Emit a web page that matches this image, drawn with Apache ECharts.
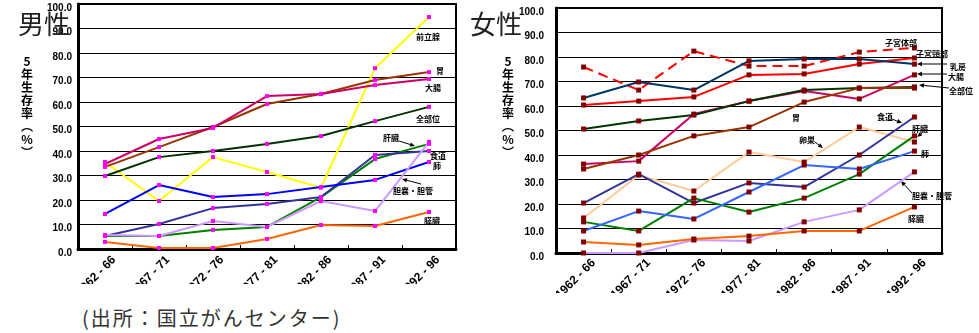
<!DOCTYPE html>
<html>
<head>
<meta charset="utf-8">
<script src="https://cdn.jsdelivr.net/npm/echarts@6/dist/echarts.min.js"></script>
<style>
  html, body { margin: 0; padding: 0; background: #fff; }
  body { width: 979px; height: 333px; position: relative; overflow: hidden; }
  #male { position: absolute; left: 0; top: 0; width: 470px; height: 284px; }
  #female { position: absolute; left: 460px; top: 0; width: 519px; height: 293px; }
  #source {
    position: absolute; left: 82px; top: 303px; letter-spacing: 2px;
    font: 20px 'Noto Sans CJK JP', sans-serif; color: #333; white-space: nowrap;
  }
</style>
</head>
<body>
<div id="male"></div>
<div id="female"></div>
<div id="source">(出所：国立がんセンター)</div>
<script>
// 診断期間
const periods = ['1962 - 66', '1967 - 71', '1972 - 76', '1977 - 81', '1982 - 86', '1987 - 91', '1992 - 96'];

// 男性 5年生存率 (%)
const maleProstate = [35.5, 19.6, 37.5, 31.4, 25.0, 73.8, 94.7];
const maleStomach = [33.5, 41.6, 49.8, 59.2, 63.3, 69.0, 72.2];
const maleColon = [34.7, 44.9, 49.4, 62.4, 63.3, 66.9, 69.4];
const maleAll = [29.8, 37.5, 40.0, 42.9, 46.1, 52.2, 58.0];
const maleLiver = [5.3, 5.3, 7.8, 9.0, 21.2, 36.7, 42.9];
const maleEsophagus = [5.3, 10.2, 16.7, 18.4, 21.2, 38.4, 40.0];
const maleLung = [14.3, 26.1, 21.2, 22.4, 25.3, 28.2, 35.5];
const maleGallbladder = [5.7, 5.3, 11.4, 9.0, 19.6, 15.5, 43.7];
const malePancreas = [2.9, 0.4, 0.4, 4.1, 9.8, 9.4, 15.1];

// 女性 5年生存率 (%)
const femaleUterusBody = [75.9, 66.5, 82.4, 76.3, 76.3, 82.0, 83.7];
const femaleCervix = [60.4, 62.0, 63.7, 72.7, 73.1, 77.1, 79.6];
const femaleBreast = [63.3, 69.8, 66.5, 78.4, 79.2, 79.2, 77.1];
const femaleColon = [36.3, 37.5, 56.7, 62.0, 66.1, 62.9, 72.7];
const femaleAll = [50.6, 53.9, 56.3, 62.0, 66.5, 67.3, 67.8];
const femaleStomach = [34.3, 40.0, 47.8, 51.4, 61.6, 67.3, 67.3];
const femaleOvary = [14.3, 31.8, 25.3, 41.2, 37.1, 51.4, 45.3];
const femaleEsophagus = [20.4, 32.2, 20.4, 28.6, 26.9, 40.0, 55.5];
const femaleLiver = [12.7, 9.0, 22.4, 16.7, 22.4, 32.2, 47.8];
const femaleLung = [9.0, 17.1, 13.9, 24.9, 35.9, 34.3, 41.6];
const femaleGallbladder = [0, 0, 5.3, 4.9, 12.7, 17.6, 33.1];
const femalePancreas = [4.5, 3.3, 5.7, 6.9, 9.0, 9.0, 18.8];

const tickFont = "'Liberation Sans Narrow', 'Liberation Sans', sans-serif";
const jpFont = "'Noto Sans CJK JP', sans-serif";

function line(name, data, color, marker, size, dashed) {
  return {
    name, type: 'line', data,
    symbol: 'rect', symbolSize: size,
    itemStyle: { color: marker },
    lineStyle: { color, width: 2, type: dashed ? [10, 6] : 'solid' },
    emphasis: { disabled: true },
    z: 3,
  };
}

function note(text, x, y) {
  return {
    type: 'text', x, y, z: 10,
    style: { text, font: 'bold 8px ' + jpFont, fill: '#000', align: 'center', verticalAlign: 'middle' },
  };
}

function arrow(x1, y1, x2, y2) {
  const a = Math.atan2(y2 - y1, x2 - x1);
  const h = 5, w = 2.2;
  const bx = x2 - h * Math.cos(a), by = y2 - h * Math.sin(a);
  return {
    type: 'group', z: 10,
    children: [
      { type: 'line', shape: { x1, y1, x2: bx, y2: by }, style: { stroke: '#000', lineWidth: 1 } },
      {
        type: 'polygon',
        shape: { points: [[x2, y2], [bx - w * Math.sin(a), by + w * Math.cos(a)], [bx + w * Math.sin(a), by - w * Math.cos(a)]] },
        style: { fill: '#000' },
      },
    ],
  };
}

// 2つ目の grid は x 軸ラベルだけを右へずらして描くためのもの
function baseOption(grid, title, titleX, yNameX, margin, yMargin, shift) {
  return {
    animation: false,
    grid: [
      { ...grid, show: true, borderColor: '#000', borderWidth: 2, containLabel: false, outerBoundsMode: 'none' },
      { ...grid, left: grid.left + shift, show: false, containLabel: false, outerBoundsMode: 'none' },
    ],
    xAxis: [
      {
        type: 'category', data: periods, boundaryGap: true,
        axisLine: { lineStyle: { color: '#000', width: 3 } },
        axisTick: { show: true, inside: true, length: 4, interval: 0, lineStyle: { color: '#000' } },
        axisLabel: { show: false },
      },
      {
        gridIndex: 1, type: 'category', data: periods, boundaryGap: true,
        axisLine: { show: false }, axisTick: { show: false },
        axisLabel: {
          interval: 0, rotate: 45, margin, color: '#000',
          fontFamily: tickFont, fontWeight: 'bold', fontSize: 12,
        },
      },
    ],
    yAxis: [
      {
        type: 'value', min: 0, max: 100, interval: 10,
        axisLine: { show: true, lineStyle: { color: '#000', width: 3 } },
        axisTick: { show: false },
        splitLine: { lineStyle: { color: '#000', width: 1 } },
        axisLabel: {
          color: '#000', fontFamily: tickFont, fontWeight: 'bold', fontSize: 10,
          margin: yMargin, verticalAlign: 'top', lineHeight: 8,
          formatter: (v) => v.toFixed(1),
        },
      },
      { gridIndex: 1, type: 'value', min: 0, max: 100, show: false },
    ],
    graphic: [
      {
        type: 'text', x: titleX, y: 24, z: 20,
        style: { text: title, font: '26px ' + jpFont, fill: '#222', align: 'center', verticalAlign: 'middle' },
      },
      {
        type: 'text', x: yNameX, y: 55, z: 20,
        style: {
          text: '5\n年\n生\n存\n率\n︵\n%\n︶', font: 'bold 12px ' + jpFont, lineHeight: 13,
          fill: '#000', align: 'center', verticalAlign: 'top',
        },
      },
    ],
  };
}

const male = echarts.init(document.getElementById('male'));
const maleOpt = baseOption({ left: 78, top: 4, width: 378, height: 245 }, '男性', 44, 27, 9, 6, 9);
const M = '#FF00FF';
maleOpt.series = [
  line('前立腺', maleProstate, '#FFFF00', M, 4),
  line('胃', maleStomach, '#993300', M, 4),
  line('大腸', maleColon, '#CC0066', M, 4),
  line('全部位', maleAll, '#003300', M, 4),
  line('肝臓', maleLiver, '#008000', M, 4),
  line('食道', maleEsophagus, '#333399', M, 4),
  line('肺', maleLung, '#0000FF', M, 4),
  line('胆嚢・胆管', maleGallbladder, '#CC99FF', M, 4),
  line('膵臓', malePancreas, '#FF6600', M, 4),
];
maleOpt.graphic.push(
  note('前立腺', 428, 37),
  note('胃', 440, 71),
  note('大腸', 433, 88),
  note('全部位', 428, 119),
  note('肝臓', 391, 138),
  note('食道', 438, 156),
  note('肺', 437, 166),
  note('胆嚢・胆管', 413, 191),
  note('膵臓', 432, 221),
  arrow(399, 141, 415, 146),
  arrow(421, 184, 402, 179),
);
male.setOption(maleOpt);

const female = echarts.init(document.getElementById('female'));
const femaleOpt = baseOption({ left: 96, top: 8, width: 386, height: 245 }, '女性', 36, 48, 8, 12, 10);
const F = '#800000';
femaleOpt.series = [
  line('子宮体部', femaleUterusBody, '#FF0000', F, 5, true),
  line('子宮頸部', femaleCervix, '#FF0000', F, 5),
  line('乳房', femaleBreast, '#003366', F, 5),
  line('大腸', femaleColon, '#CC0066', F, 5),
  line('全部位', femaleAll, '#003300', F, 5),
  line('胃', femaleStomach, '#993300', F, 5),
  line('卵巣', femaleOvary, '#FFCC99', F, 5),
  line('食道', femaleEsophagus, '#333399', F, 5),
  line('肝臓', femaleLiver, '#008000', F, 5),
  line('肺', femaleLung, '#3366FF', F, 5),
  line('胆嚢・胆管', femaleGallbladder, '#CC99FF', F, 5),
  line('膵臓', femalePancreas, '#FF6600', F, 5),
];
femaleOpt.graphic.push(
  note('子宮体部', 441, 43),
  note('子宮頸部', 472, 54),
  note('乳房', 498, 67),
  note('大腸', 496, 77),
  note('全部位', 501, 91),
  note('胃', 336, 118),
  note('食道', 425, 117),
  note('肝臓', 460, 129),
  note('卵巣', 347, 140),
  note('肺', 465, 154),
  note('胆嚢・胆管', 472, 196),
  note('膵臓', 456, 219),
  arrow(487, 64, 457, 64),
  arrow(487, 74, 457, 74),
  arrow(489, 88, 459, 85),
  arrow(432, 119, 442, 123),
  arrow(462, 133, 457, 137),
  arrow(355, 142, 363, 148),
  arrow(452, 193, 441, 181),
);
female.setOption(femaleOpt);
</script>
</body>
</html>
